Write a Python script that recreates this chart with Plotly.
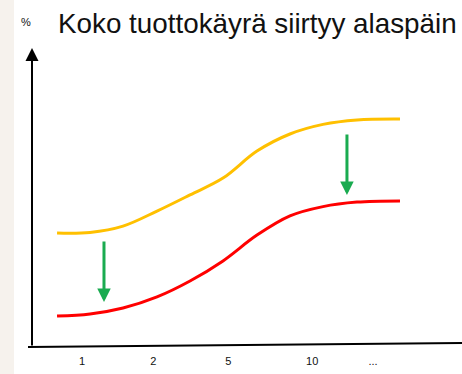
import plotly.graph_objects as go

# Data (maturity position index, yield %)
maturity_labels = ["1", "2", "5", "10", "..."]
maturity_tick_pos = [1.0, 1.95, 2.95, 4.07, 4.88]

curve_x = [0.667, 1.107, 1.547, 2.0, 2.44, 2.88, 3.333, 3.773, 4.213, 4.667, 5.24]
before_yield = [3.80, 3.82, 4.03, 4.53, 5.07, 5.63, 6.53, 7.10, 7.42, 7.57, 7.60]
after_yield = [1.03, 1.10, 1.30, 1.67, 2.20, 2.87, 3.73, 4.37, 4.68, 4.83, 4.87]

shift_arrow_x = [1.293, 4.533]
shift_arrow_from = [3.57, 7.13]
shift_arrow_to = [1.50, 5.07]

title_text = "Koko tuottokäyrä siirtyy alaspäin"

W, H = 462, 374
L, R, T, B = 32, 0, 50, 27
XR = [0.333, 6.067]
YR = [0, 9.9]

fig = go.Figure()
fig.add_trace(go.Scatter(x=curve_x, y=before_yield, mode="lines",
                         line=dict(color="#FFC000", width=3, shape="spline", smoothing=1.0),
                         hoverinfo="skip"))
fig.add_trace(go.Scatter(x=curve_x, y=after_yield, mode="lines",
                         line=dict(color="#FF0000", width=3, shape="spline", smoothing=1.0),
                         hoverinfo="skip"))

annotations = []
for ax_, y0, y1 in zip(shift_arrow_x, shift_arrow_from, shift_arrow_to):
    annotations.append(dict(x=ax_, y=y1, ax=ax_, ay=y0, xref="x", yref="y",
                            axref="x", ayref="y", showarrow=True, text="",
                            arrowhead=2, arrowsize=0.9, arrowwidth=3,
                            arrowcolor="#1AAB50"))
# y-axis arrow
annotations.append(dict(x=XR[0], y=YR[1] + 0.07, ax=XR[0], ay=YR[0], xref="x", yref="y",
                        axref="x", ayref="y", showarrow=True, text="",
                        arrowhead=2, arrowsize=1.3, arrowwidth=2, arrowcolor="#000000"))
pw = W - L - R
ph = H - T - B
annotations.append(dict(x=(56 - L) / pw, y=(347 - 23) / ph, xref="paper", yref="paper",
                        xanchor="left", yanchor="middle", showarrow=False,
                        text=title_text,
                        font=dict(family="Liberation Sans, Arial", size=27.8, color="#111111")))
annotations.append(dict(x=(26 - L) / pw, y=(347 - 22) / ph, xref="paper", yref="paper",
                        xanchor="center", yanchor="middle", showarrow=False,
                        text="%",
                        font=dict(family="Liberation Sans, Arial", size=11, color="#111111")))

shapes = [
    dict(type="rect", xref="paper", yref="paper", x0=-L / pw - 0.01, x1=(14 - L) / pw,
         y0=-B / ph - 0.01, y1=(H - B) / ph + 0.01, fillcolor="#F6F2ED", line=dict(width=0),
         layer="below"),
    dict(type="line", xref="paper", yref="paper", x0=(28 - L) / pw, y0=0,
         x1=1.0, y1=4 / ph, line=dict(color="#000000", width=2)),
]

fig.update_layout(
    width=W, height=H,
    margin=dict(l=L, r=R, t=T, b=B, pad=0),
    paper_bgcolor="#FFFFFF", plot_bgcolor="#FFFFFF",
    showlegend=False,
    annotations=annotations,
    shapes=shapes,
    xaxis=dict(range=XR, showgrid=False, zeroline=False, showline=False,
               tickmode="array", tickvals=maturity_tick_pos, ticktext=maturity_labels,
               ticks="", tickfont=dict(family="Liberation Sans, Arial", size=11, color="#111111"),
               ticklabelstandoff=6, fixedrange=True),
    yaxis=dict(range=YR, showgrid=False, zeroline=False, showline=False,
               showticklabels=False, ticks="", fixedrange=True),
)

fig.write_html("out.html", config={"displayModeBar": False},
               post_script="document.body.style.margin='0';document.body.style.overflow='hidden';")
